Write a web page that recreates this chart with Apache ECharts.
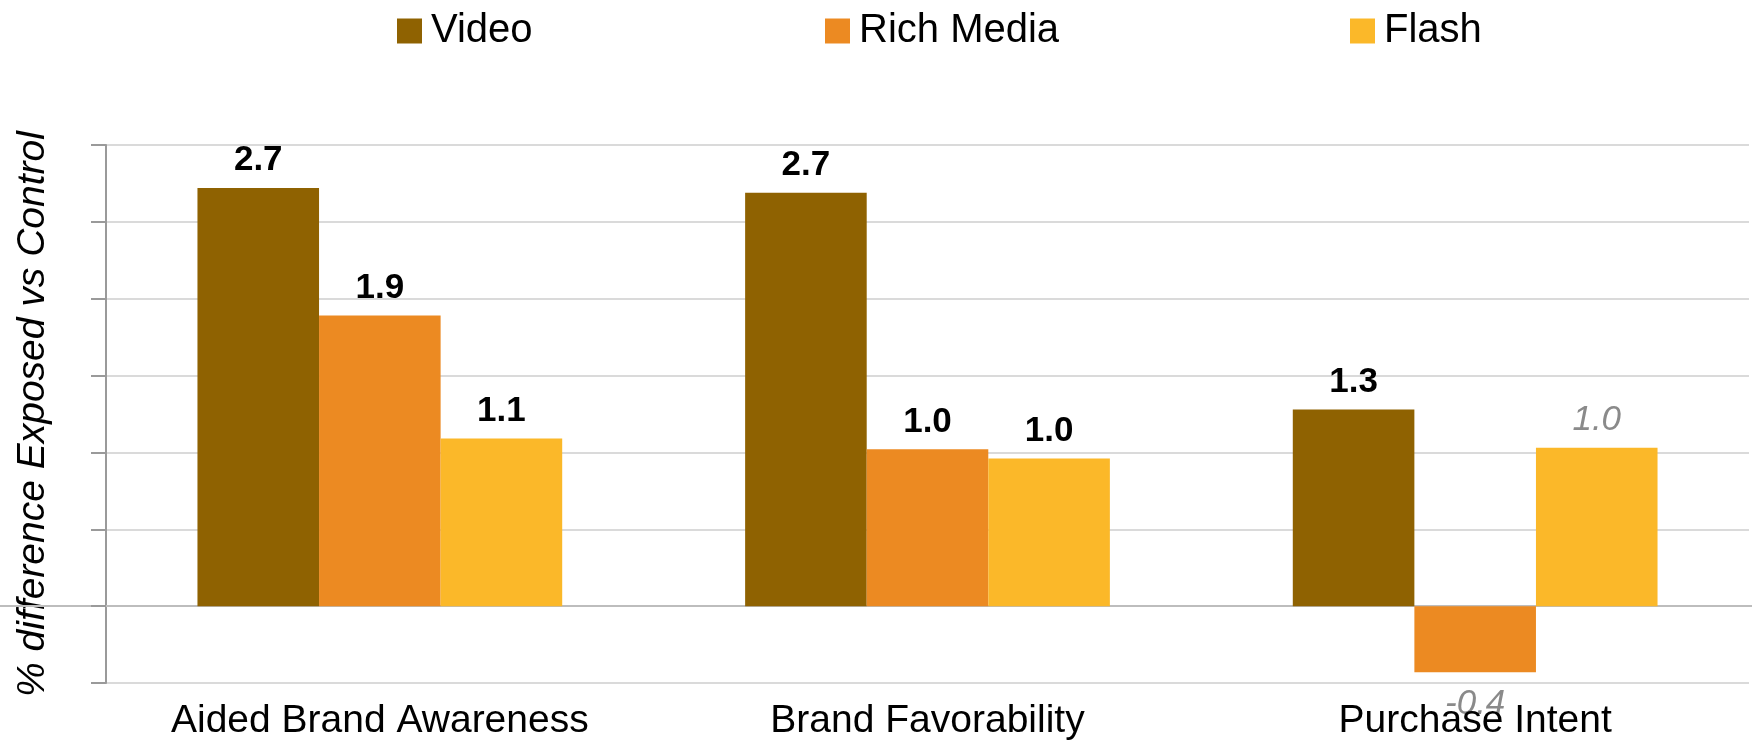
<!DOCTYPE html>
<html>
<head>
<meta charset="utf-8">
<script src="https://cdn.jsdelivr.net/npm/echarts@6/dist/echarts.min.js"></script>
<style>
html,body{margin:0;padding:0;background:#fff;}
#chart{width:1752px;height:743px;}
</style>
</head>
<body>
<div id="chart"></div>
<script>
const categories = ['Aided Brand Awareness', 'Brand Favorability', 'Purchase Intent'];
const seriesNames = ['Video', 'Rich Media', 'Flash'];
const video = [2.72, 2.69, 1.28];
const richMedia = [1.89, 1.02, -0.43];
const flash = [1.09, 0.96, 1.03];
// true = shown bold (significant), false = shown grey italic
const videoSig = [true, true, true];
const richMediaSig = [true, true, false];
const flashSig = [true, true, false];
const yMin = -0.5, yMax = 3.0, yStep = 0.5;

const FONT = '"Liberation Sans", Arial, sans-serif';
const colors = ['#8F6201', '#EC8A22', '#FBB829'];

function mkData(vals, sig) {
  return vals.map((v, i) => {
    if (sig[i]) return { value: v };
    return {
      value: v,
      label: {
        fontWeight: 'normal',
        fontStyle: 'italic',
        color: '#8a8a8a',
        position: v < 0 ? 'bottom' : 'top',
        distance: v < 0 ? 15 : 10
      }
    };
  });
}

const chart = echarts.init(document.getElementById('chart'), null, {renderer: 'canvas'});
const labelBase = {
  show: true,
  position: 'top',
  distance: 10,
  fontFamily: FONT,
  fontSize: 35,
  fontWeight: 'bold',
  color: '#000',
  formatter: p => p.value.toFixed(1)
};
const legendBase = {
  top: 11,
  padding: 0,
  itemWidth: 25,
  itemHeight: 25,
  icon: 'rect',
  textStyle: { fontFamily: FONT, fontSize: 40, color: '#000', padding: [0, 0, 0, 4] }
};
const option = {
  animation: false,
  color: colors,
  legend: [
    Object.assign({ left: 397, data: [seriesNames[0]] }, legendBase),
    Object.assign({ left: 825, data: [seriesNames[1]] }, legendBase),
    Object.assign({ left: 1350, data: [seriesNames[2]] }, legendBase)
  ],
  grid: [
    { left: 106, right: 3, top: 145, bottom: 60, containLabel: false },
    { left: 0, right: 0, top: 145, bottom: 60, containLabel: false }
  ],
  xAxis: [
    {
      type: 'category', gridIndex: 0, data: categories,
      axisLine: { show: false, onZero: false },
      axisTick: { show: false },
      axisLabel: { interval: 0, margin: 19, fontFamily: FONT, fontSize: 39, color: '#000' },
      z: 10
    },
    {
      type: 'category', gridIndex: 1, data: [''],
      axisLine: { show: true, onZero: true, lineStyle: { color: '#bdbdbd', width: 2 } },
      axisTick: { show: false }, axisLabel: { show: false }, splitLine: { show: false }
    }
  ],
  yAxis: [
    {
      type: 'value', gridIndex: 0, min: yMin, max: yMax, interval: yStep,
      name: '% difference Exposed vs Control',
      nameLocation: 'middle', nameGap: 53, nameRotate: 90,
      nameTextStyle: { fontFamily: FONT, fontSize: 39, fontStyle: 'italic', color: '#000' },
      axisLine: { show: true, lineStyle: { color: '#9a9a9a', width: 2 } },
      axisTick: { show: true, length: 15, lineStyle: { color: '#9a9a9a', width: 2 } },
      axisLabel: { show: false },
      splitLine: { show: true, lineStyle: { color: '#dadada', width: 2 } }
    },
    {
      type: 'value', gridIndex: 1, min: yMin, max: yMax, interval: yStep, show: false
    }
  ],
  series: [
    { name: seriesNames[0], type: 'bar', xAxisIndex: 0, yAxisIndex: 0, barWidth: '22.2%', barGap: '0%',
      data: mkData(video, videoSig), label: labelBase },
    { name: seriesNames[1], type: 'bar', xAxisIndex: 0, yAxisIndex: 0, barWidth: '22.2%', barGap: '0%',
      data: mkData(richMedia, richMediaSig), label: labelBase },
    { name: seriesNames[2], type: 'bar', xAxisIndex: 0, yAxisIndex: 0, barWidth: '22.2%', barGap: '0%',
      data: mkData(flash, flashSig), label: labelBase }
  ]
};
chart.setOption(option);
</script>
</body>
</html>
